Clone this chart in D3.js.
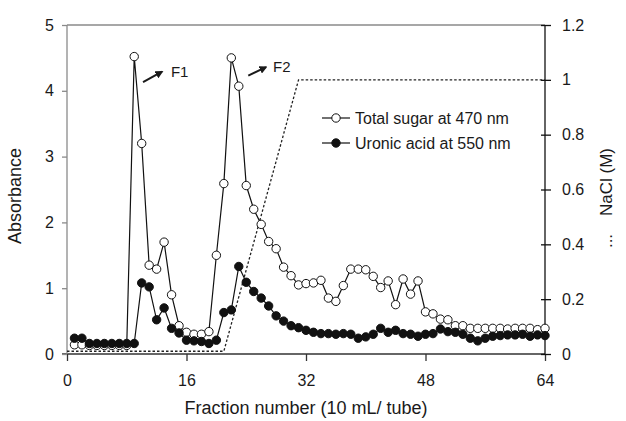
<!DOCTYPE html>
<html>
<head>
<meta charset="utf-8">
<script src="https://cdn.jsdelivr.net/npm/d3@7"></script>
<style>
  body { margin: 0; background: #fff; }
  svg text { font-family: "Liberation Sans", Arial, sans-serif; fill: #1a1a1a; }
</style>
</head>
<body>
<svg width="626" height="421"></svg>
<script>
// fraction numbers (tubes 1..64)
var fractions = d3.range(1, 65);

// absorbance at 470 nm (total sugar), one per fraction
var totalSugar = [0.14, 0.14, 0.13, 0.13, 0.13, 0.13, 0.13, 0.13, 4.52, 3.20,
                  1.35, 1.29, 1.70, 0.90, 0.43, 0.33, 0.30, 0.30, 0.34, 1.50,
                  2.59, 4.50, 4.07, 2.56, 2.20, 1.97, 1.71, 1.60, 1.32, 1.19,
                  1.05, 1.07, 1.08, 1.12, 0.85, 0.80, 1.04, 1.29, 1.29, 1.28,
                  1.18, 1.01, 1.11, 0.75, 1.14, 0.91, 1.11, 0.64, 0.61, 0.53,
                  0.52, 0.43, 0.43, 0.39, 0.39, 0.39, 0.39, 0.39, 0.38, 0.39,
                  0.39, 0.39, 0.37, 0.39];

// absorbance at 550 nm (uronic acid)
var uronicAcid = [0.24, 0.24, 0.16, 0.16, 0.16, 0.16, 0.16, 0.16, 0.16, 1.08,
                  1.02, 0.52, 0.70, 0.39, 0.32, 0.21, 0.20, 0.19, 0.16, 0.21,
                  0.63, 0.67, 1.33, 1.09, 0.95, 0.85, 0.73, 0.58, 0.50, 0.43,
                  0.40, 0.36, 0.33, 0.31, 0.31, 0.30, 0.31, 0.30, 0.24, 0.26,
                  0.30, 0.39, 0.33, 0.36, 0.31, 0.30, 0.27, 0.30, 0.31, 0.38,
                  0.34, 0.33, 0.30, 0.24, 0.20, 0.24, 0.27, 0.28, 0.29, 0.29,
                  0.30, 0.27, 0.29, 0.28];

// NaCl gradient (M)
var naclFraction = [0, 21, 31, 64];
var naclValue = [0.01, 0.01, 1.0, 1.0];

var xTicks = [0, 16, 32, 48, 64];
var leftTicks = [0, 1, 2, 3, 4, 5];
var rightTicks = [0, 0.2, 0.4, 0.6, 0.8, 1, 1.2];

var legendLabels = ["Total sugar at 470 nm", "Uronic acid at 550 nm"];

// peak annotations, in data units [fraction, absorbance]
var peakLabels = [
  {name: "F1", from: [10.18, 4.13], to: [12.72, 4.29], text: [13.92, 4.21]},
  {name: "F2", from: [24.27, 4.23], to: [26.64, 4.36], text: [27.58, 4.29]}
];

var svg = d3.select("svg");
var margin = {top: 25, right: 81, bottom: 67, left: 67},
    width = 626 - margin.left - margin.right,
    height = 421 - margin.top - margin.bottom;

var x = d3.scaleLinear().domain([0, 64]).range([margin.left, margin.left + width]);
var yL = d3.scaleLinear().domain([0, 5]).range([margin.top + height, margin.top]);
var yR = d3.scaleLinear().domain([0, 1.2]).range([margin.top + height, margin.top]);

// arrow marker
svg.append("defs").append("marker")
  .attr("id", "arrow")
  .attr("viewBox", "0 0 10 10")
  .attr("refX", 8).attr("refY", 5)
  .attr("markerWidth", 4).attr("markerHeight", 4)
  .attr("orient", "auto")
  .append("path").attr("d", "M0,0L10,5L0,10z").attr("fill", "#1a1a1a");

// top frame line
svg.append("line")
  .attr("x1", x(0)).attr("x2", x(64))
  .attr("y1", yL(5)).attr("y2", yL(5))
  .attr("stroke", "#8a8a8a").attr("stroke-width", 1.3);

// axes
var gx = svg.append("g")
  .attr("transform", "translate(0," + yL(0) + ")")
  .call(d3.axisBottom(x).tickValues(xTicks).tickSize(7).tickPadding(14));
var gl = svg.append("g")
  .attr("transform", "translate(" + x(0) + ",0)")
  .call(d3.axisLeft(yL).tickValues(leftTicks).tickSize(5).tickPadding(8)
        .tickFormat(d3.format("d")));
var gr = svg.append("g")
  .attr("transform", "translate(" + x(64) + ",0)")
  .call(d3.axisRight(yR).tickValues(rightTicks).tickSize(6).tickPadding(11)
        .tickFormat(function(d) { return d3.format("")(+d.toFixed(1)); }));

gr.selectAll(".tick line").attr("x1", -4);

[gx, gl, gr].forEach(function(g) {
  g.selectAll("text").attr("font-size", 16).attr("fill", "#222");
  g.attr("font-family", null);
});
gx.selectAll("path, line").attr("stroke", "#333").attr("stroke-width", 1.3);
gl.selectAll("path, line").attr("stroke", "#8a8a8a").attr("stroke-width", 1.3);
gr.selectAll("path, line").attr("stroke", "#111").attr("stroke-width", 1.3);
gx.select(".domain").attr("d", "M" + (x(0) - 5) + ",0H" + x(64));
gl.select(".domain").attr("d", "M0," + yL(0) + "V" + yL(5));
gr.select(".domain").attr("d", "M0," + yR(0) + "V" + yR(1.2));

// NaCl gradient
var naclLine = d3.line()
  .x(function(d, i) { return x(naclFraction[i]); })
  .y(function(d) { return yR(d); });
svg.append("path")
  .datum(naclValue)
  .attr("d", naclLine)
  .attr("fill", "none")
  .attr("stroke", "#222")
  .attr("stroke-width", 1.3)
  .attr("stroke-dasharray", "2.5,2");

function drawSeries(values, fill) {
  var line = d3.line()
    .x(function(d, i) { return x(fractions[i]); })
    .y(function(d) { return yL(d); });
  svg.append("path")
    .datum(values)
    .attr("d", line)
    .attr("fill", "none")
    .attr("stroke", "#111")
    .attr("stroke-width", 1.2);
  svg.append("g").selectAll("circle")
    .data(values)
    .enter().append("circle")
    .attr("cx", function(d, i) { return x(fractions[i]); })
    .attr("cy", function(d) { return yL(d); })
    .attr("r", 4.2)
    .attr("fill", fill)
    .attr("stroke", "#111")
    .attr("stroke-width", 1);
}
drawSeries(totalSugar, "#fff");
drawSeries(uronicAcid, "#111");

// peak labels
peakLabels.forEach(function(p) {
  svg.append("line")
    .attr("x1", x(p.from[0])).attr("y1", yL(p.from[1]))
    .attr("x2", x(p.to[0])).attr("y2", yL(p.to[1]))
    .attr("stroke", "#1a1a1a").attr("stroke-width", 2)
    .attr("marker-end", "url(#arrow)");
  svg.append("text")
    .attr("x", x(p.text[0])).attr("y", yL(p.text[1]))
    .attr("font-size", 15)
    .text(p.name);
});

// legend
var legend = svg.append("g").attr("transform", "translate(322,118)");
legendLabels.forEach(function(label, i) {
  var g = legend.append("g").attr("transform", "translate(0," + i * 25 + ")");
  g.append("line").attr("x1", 0).attr("x2", 28).attr("stroke", "#111").attr("stroke-width", 1.2);
  g.append("circle").attr("cx", 14).attr("r", 4.2)
    .attr("fill", i === 0 ? "#fff" : "#111").attr("stroke", "#111");
  g.append("text").attr("x", 33).attr("dy", "0.35em").attr("font-size", 16).text(label);
});

// axis titles
svg.append("text")
  .attr("transform", "translate(" + (x(32)) + ",414)")
  .attr("text-anchor", "middle").attr("font-size", 18)
  .text("Fraction number (10 mL/ tube)");
svg.append("text")
  .attr("transform", "translate(21,196) rotate(-90)")
  .attr("text-anchor", "middle").attr("font-size", 18)
  .text("Absorbance");
svg.append("text")
  .attr("transform", "translate(612,182) rotate(-90)")
  .attr("text-anchor", "middle").attr("font-size", 17)
  .text("NaCl (M)");
svg.append("text")
  .attr("transform", "translate(612,241) rotate(-90)")
  .attr("text-anchor", "middle").attr("font-size", 17)
  .text("...");
</script>
</body>
</html>
